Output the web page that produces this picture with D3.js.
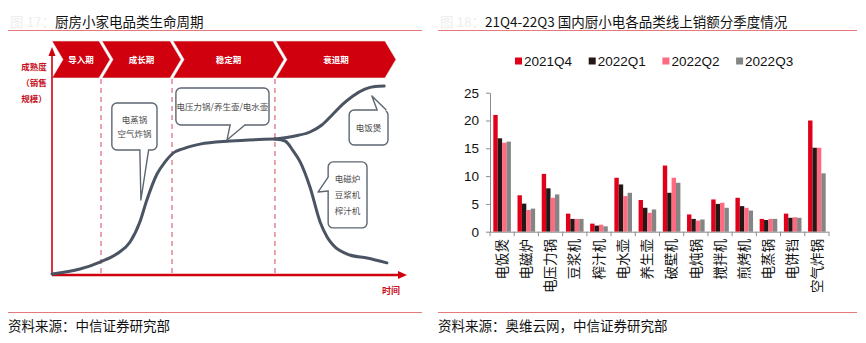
<!DOCTYPE html>
<html>
<head>
<meta charset="utf-8">
<script src="https://cdn.jsdelivr.net/npm/d3@7"></script>
<style>
  body { margin: 0; background: #fff; }
  svg { display: block; }
  text { font-family: "Liberation Sans", "Noto Sans CJK SC", sans-serif; }
  .cjk { font-family: "Noto Sans CJK SC", "Liberation Sans", sans-serif; }
</style>
</head>
<body>
<svg id="chart" width="866" height="343"></svg>
<script>
// ---------- bar chart data: online sales by category, per quarter ----------
const categories = ["电饭煲","电磁炉","电压力锅","豆浆机","榨汁机","电水壶","养生壶","破壁机","电炖锅","搅拌机","煎烤机","电蒸锅","电饼铛","空气炸锅"];
const seriesNames = ["2021Q4","2022Q1","2022Q2","2022Q3"];
const sales2021Q4 = [21.0, 6.55, 10.4, 3.25, 1.45, 9.7, 5.7, 11.9, 3.1, 5.8, 6.1, 2.3, 3.25, 20.0];
const sales2022Q1 = [16.8, 5.05, 7.8, 2.3, 1.1, 8.5, 4.3, 7.0, 2.3, 5.0, 4.6, 2.1, 2.5, 15.1];
const sales2022Q2 = [16.0, 3.9, 6.1, 2.3, 1.26, 6.4, 3.4, 9.7, 2.0, 5.2, 4.3, 2.3, 2.6, 15.1];
const sales2022Q3 = [16.2, 4.15, 6.7, 2.3, 0.96, 7.0, 4.0, 8.8, 2.2, 4.3, 3.8, 2.3, 2.5, 10.5];
const yTicks = [0, 5, 10, 15, 20, 25];

// ---------- lifecycle diagram data (time 0-100, maturity 0-100) ----------
const phases = ["导入期","成长期","稳定期","衰退期"];
const phaseBounds = [0, 14, 34.3, 63.7, 95.7];
const growthCurve = [[0,0.45],[8,2.7],[13.7,5.9],[18.9,10],[22.3,15],[25.1,24.1],[27.1,34.1],[30,45.9],[32.3,51.4],[34.3,55],[38,57.7],[42.3,59.5],[50.9,60.9],[63.7,61.8]];
const riseCurve = [[63.7,61.8],[69.4,63.2],[73.7,65],[77.1,68.2],[80.3,73.2],[83.1,77.7],[86,81.4],[89.4,84.5],[92.3,85.7],[94.9,85.9]];
const declineCurve = [[63.7,61.8],[66.6,60.9],[68.9,56.4],[70.9,51.4],[73.7,40],[76.6,24.1],[78.6,17.3],[80.3,13.6],[85.1,9.1],[90,7.7],[95.7,5.5]];
const callouts = [
  { lines: ["电蒸锅","空气炸锅"], box: [17.1, 30.0, 78.2, 56.8], side: "bottom", base: [25.1, 27.6], tip: [25.4, 34.1] },
  { lines: ["电压力锅/养生壶/电水壶"], box: [35.4, 62.0, 85.0, 68.2], side: "bottom", base: [50.9, 55.1], tip: [50.0, 61.4] },
  { lines: ["电饭煲"], box: [84.9, 96.0, 75.0, 59.1], side: "top", base: [92.9, 95.5], tip: [91.4, 81.4] },
  { lines: ["电磁炉","豆浆机","榨汁机"], box: [78.9, 90.0, 51.4, 21.4], side: "left", base: [44.5, 38.2], tip: [76.0, 37.7] }
];

const svg = d3.select("#chart");
const RED = "#d0000f";

// ---------- headers and footers ----------
function frame(x0, x1, prefix, title, source) {
  svg.append("text").attr("class", "cjk").attr("x", x0 + 2).attr("y", 27)
    .attr("font-size", 13.5).attr("fill", "#eeeeee").text(prefix);
  svg.append("text").attr("class", "cjk").attr("x", x0 + 47).attr("y", 27)
    .attr("font-size", 13.5).attr("fill", "#111").text(title);
  svg.append("line").attr("x1", x0).attr("x2", x1).attr("y1", 30.5).attr("y2", 30.5)
    .attr("stroke", "#e47a7a").attr("stroke-width", 1);
  svg.append("line").attr("x1", x0).attr("x2", x1).attr("y1", 312.5).attr("y2", 312.5)
    .attr("stroke", "#e47a7a").attr("stroke-width", 1);
  svg.append("text").attr("class", "cjk").attr("x", x0).attr("y", 331)
    .attr("font-size", 13.5).attr("fill", "#111").text(source);
}
frame(8, 422, "图 17：", "厨房小家电品类生命周期", "资料来源：中信证券研究部");
frame(438, 857, "图 18：", "21Q4-22Q3 国内厨小电各品类线上销额分季度情况", "资料来源：奥维云网，中信证券研究部");

// ---------- lifecycle diagram ----------
const xL = d3.scaleLinear().domain([0, 100]).range([52, 402]);
const yL = d3.scaleLinear().domain([0, 100]).range([275, 55]);
const left = svg.append("g");

// phase banner chevrons
const bTop = 41, bBot = 78, bMid = (bTop + bBot) / 2, notch = 11;
phases.forEach((p, i) => {
  const x0 = xL(phaseBounds[i]) + (i ? 1 : 0);
  const x1 = xL(phaseBounds[i + 1]) - 2;
  const pts = [[x0, bTop], [x1, bTop], [x1 + notch, bMid], [x1, bBot], [x0, bBot], [x0 + notch, bMid]];
  left.append("polygon").attr("points", pts.map(d => d.join(",")).join(" "))
    .attr("fill", RED).attr("stroke", "#e9e9e9").attr("stroke-width", 0.6);
  left.append("text").attr("class", "cjk")
    .attr("x", (x0 + x1 + notch) / 2).attr("y", bMid).attr("dy", "0.36em")
    .attr("text-anchor", "middle").attr("font-size", 8.5).attr("font-weight", 700)
    .attr("fill", "#fff").text(p);
});

// phase separators
phaseBounds.slice(1, 4).forEach(b => {
  left.append("line").attr("x1", xL(b)).attr("x2", xL(b)).attr("y1", 79).attr("y2", 273)
    .attr("stroke", "#e07482").attr("stroke-width", 1.3).attr("stroke-dasharray", "5,4");
});

// axes with arrows
left.append("line").attr("x1", xL(0)).attr("x2", xL(0)).attr("y1", yL(0)).attr("y2", 54)
  .attr("stroke", RED).attr("stroke-width", 1.6);
left.append("polygon").attr("points", `${xL(0)},47 ${xL(0) - 3.5},56 ${xL(0) + 3.5},56`).attr("fill", RED);
left.append("line").attr("x1", xL(0)).attr("x2", 400).attr("y1", yL(0)).attr("y2", yL(0))
  .attr("stroke", RED).attr("stroke-width", 2.4);
left.append("polygon").attr("points", `407,${yL(0)} 398,${yL(0) - 4} 398,${yL(0) + 4}`).attr("fill", RED);

// axis titles
["成熟度", "（销售", "规模）"].forEach((t, i) => {
  left.append("text").attr("class", "cjk").attr("x", 34).attr("y", 67 + i * 16).attr("dy", "0.36em")
    .attr("text-anchor", "middle").attr("font-size", 8.5).attr("font-weight", 700)
    .attr("fill", "#c8101e").text(t);
});
left.append("text").attr("class", "cjk").attr("x", 391).attr("y", 291).attr("dy", "0.36em")
  .attr("text-anchor", "middle").attr("font-size", 9).attr("font-weight", 700)
  .attr("fill", "#c8101e").text("时间");

// lifecycle curves
const curveLine = d3.line().x(d => xL(d[0])).y(d => yL(d[1])).curve(d3.curveMonotoneX);
[growthCurve, riseCurve, declineCurve].forEach(c => {
  left.append("path").attr("d", curveLine(c)).attr("fill", "none")
    .attr("stroke", "#4a5462").attr("stroke-width", 3).attr("stroke-linecap", "round");
});

// callout boxes
const CALL = "#5d6671";
callouts.forEach(c => {
  const bx0 = xL(c.box[0]), bx1 = xL(c.box[1]), by0 = yL(c.box[2]), by1 = yL(c.box[3]);
  left.append("rect").attr("x", bx0).attr("y", by0).attr("width", bx1 - bx0).attr("height", by1 - by0)
    .attr("rx", 5).attr("fill", "#fff").attr("stroke", CALL).attr("stroke-width", 1.4);
  let b1, b2;
  if (c.side === "bottom") { b1 = [xL(c.base[0]), by1]; b2 = [xL(c.base[1]), by1]; }
  else if (c.side === "top") { b1 = [xL(c.base[0]), by0]; b2 = [xL(c.base[1]), by0]; }
  else { b1 = [bx0, yL(c.base[0])]; b2 = [bx0, yL(c.base[1])]; }
  const tip = [xL(c.tip[0]), yL(c.tip[1])];
  left.append("path").attr("d", `M${b1}L${tip}L${b2}Z`).attr("fill", "#fff").attr("stroke", "none");
  left.append("path").attr("d", `M${b1}L${tip}L${b2}`).attr("fill", "none")
    .attr("stroke", CALL).attr("stroke-width", 1.4).attr("stroke-linejoin", "round");
  // open the box border where the pointer joins
  const inset = c.side === "left" ? [1.2, 0] : (c.side === "top" ? [0, 1.2] : [0, -1.2]);
  const sh = c.side === "left" ? [0, 1] : [1, 0];
  left.append("line")
    .attr("x1", b1[0] + inset[0] + sh[0] * (b1[0] < b2[0] ? 1 : -1) * 0.8)
    .attr("y1", b1[1] + inset[1] + sh[1] * (b1[1] < b2[1] ? 1 : -1) * 0.8)
    .attr("x2", b2[0] + inset[0] - sh[0] * (b1[0] < b2[0] ? 1 : -1) * 0.8)
    .attr("y2", b2[1] + inset[1] - sh[1] * (b1[1] < b2[1] ? 1 : -1) * 0.8)
    .attr("stroke", "#fff").attr("stroke-width", 2.6);
  const cx = (bx0 + bx1) / 2, cy = (by0 + by1) / 2, lh = c.lines.length === 3 ? 16 : 14;
  c.lines.forEach((t, i) => {
    left.append("text").attr("class", "cjk").attr("x", cx)
      .attr("y", cy + (i - (c.lines.length - 1) / 2) * lh).attr("dy", "0.36em")
      .attr("text-anchor", "middle").attr("font-size", 8.5).attr("fill", "#4a4a4a").text(t);
  });
});

// ---------- grouped bar chart ----------
const seriesValues = [sales2021Q4, sales2022Q1, sales2022Q2, sales2022Q3];
const seriesColors = ["#e1001a", "#231815", "#ff6a80", "#858585"];
const x = d3.scaleBand().domain(categories).range([490, 829]).padding(0);
const xs = d3.scaleBand().domain(seriesNames).range([0, x.bandwidth()]).paddingInner(0).paddingOuter(0.75);
const y = d3.scaleLinear().domain([0, 25]).range([231.7, 92.7]);
const right = svg.append("g");

// bars
seriesNames.forEach((s, si) => {
  right.append("g").selectAll("rect").data(categories).join("rect")
    .attr("x", c => x(c) + xs(s))
    .attr("y", (c, i) => y(seriesValues[si][i]))
    .attr("width", xs.bandwidth())
    .attr("height", (c, i) => y(0) - y(seriesValues[si][i]))
    .attr("fill", seriesColors[si]);
});

// y axis
const yAxis = right.append("g").attr("transform", "translate(490,0)")
  .call(d3.axisLeft(y).tickValues(yTicks).tickSize(4).tickPadding(7).tickSizeOuter(0));
yAxis.select(".domain").attr("stroke", "#8c8c8c");
yAxis.selectAll(".tick line").attr("stroke", "#8c8c8c");
yAxis.selectAll(".tick text").attr("font-size", 13.5).attr("fill", "#111")
  .attr("font-family", "Liberation Sans, sans-serif");

// x axis with ticks at category boundaries
right.append("line").attr("x1", 490).attr("x2", 829).attr("y1", y(0) + 0.5).attr("y2", y(0) + 0.5)
  .attr("stroke", "#8c8c8c");
right.append("g").selectAll("line").data(categories.map(c => x(c)).concat([x.range()[1]])).join("line")
  .attr("x1", d => d).attr("x2", d => d).attr("y1", y(0)).attr("y2", y(0) + 4.5)
  .attr("stroke", "#8c8c8c");
right.append("g").selectAll("text").data(categories).join("text")
  .attr("class", "cjk")
  .attr("transform", c => `translate(${x(c) + x.bandwidth() / 2},239) rotate(-90)`)
  .attr("dy", "0.35em").attr("text-anchor", "end")
  .attr("font-size", 13.5).attr("fill", "#111").text(c => c);

// legend
const legend = right.append("g").selectAll("g").data(seriesNames).join("g")
  .attr("transform", (s, i) => `translate(${515 + i * 73.7},61)`);
legend.append("rect").attr("x", 0).attr("y", -3.5).attr("width", 7).attr("height", 7)
  .attr("fill", (s, i) => seriesColors[i]);
legend.append("text").attr("x", 9).attr("dy", "0.36em").attr("font-size", 13.5)
  .attr("fill", "#111").text(s => s);
</script>
</body>
</html>
